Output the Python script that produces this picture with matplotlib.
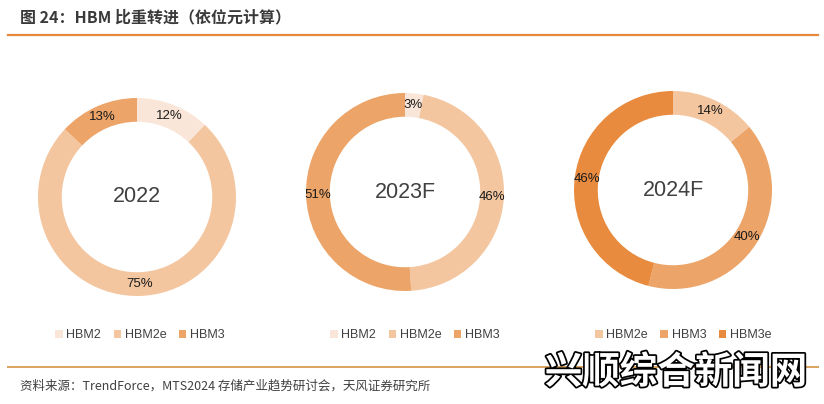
import matplotlib
matplotlib.use('Agg')
import matplotlib.pyplot as plt
import matplotlib.patheffects as pe
from matplotlib.patches import Patch

plt.rcParams['font.family'] = ['Liberation Sans', 'Noto Sans CJK SC', 'DejaVu Sans']

# data
years = ['2022', '2023F', '2024F']
labels_2022 = ['HBM2', 'HBM2e', 'HBM3']
share_2022 = [12, 75, 13]
labels_2023 = ['HBM2', 'HBM2e', 'HBM3']
share_2023 = [3, 46, 51]
labels_2024 = ['HBM2e', 'HBM3', 'HBM3e']
share_2024 = [14, 40, 46]

colors = {'HBM2': '#FAE6D8', 'HBM2e': '#F3C6A0', 'HBM3': '#ECA468', 'HBM3e': '#E98B3E'}

W, H = 824, 404
fig = plt.figure(figsize=(W / 100, H / 100), dpi=100)

# title and rules
fig.text(20 / W, 1 - 17 / H, '图 24：HBM 比重转进（依位元计算）', fontsize=11.5, fontweight='bold',
         color='#3a3a3a', va='center', family=['Noto Sans CJK SC', 'DejaVu Sans'])
fig.add_artist(plt.Line2D([8 / W, 818 / W], [1 - 35 / H, 1 - 35 / H], color='#E8883A', lw=1.6))
fig.add_artist(plt.Line2D([8 / W, 818 / W], [1 - 367 / H, 1 - 367 / H], color='#D9A25E', lw=1.4))
fig.text(20 / W, 1 - 386 / H, '资料来源：TrendForce，MTS2024 存储产业趋势研讨会，天风证券研究所', fontsize=9,
         color='#404040', va='center', family=['Noto Sans CJK SC', 'DejaVu Sans'])

panels = [
    (years[0], labels_2022, share_2022, (137, 197), 50),
    (years[1], labels_2023, share_2023, (405, 192), 325),
    (years[2], labels_2024, share_2024, (673, 190), 590),
]
R = 99
for year, labs, vals, (cx, cy), lx in panels:
    ax = fig.add_axes([(cx - R) / W, 1 - (cy + R) / H, 2 * R / W, 2 * R / H])
    wedges, _, autotexts = ax.pie(vals, colors=[colors[l] for l in labs], startangle=90,
                                  counterclock=False, radius=1.0,
                                  autopct=lambda p: f'{p:.0f}%', pctdistance=0.88,
                                  wedgeprops=dict(width=0.24, edgecolor='none'),
                                  textprops=dict(fontsize=9.5, color='#1a1a1a'))
    ax.text(0, 0, year, ha='center', va='center', fontsize=15.5, color='#404040')
    ax.set_aspect('equal')
    ax.set_xlim(-1, 1)
    ax.set_ylim(-1, 1)
    handles = [Patch(facecolor=colors[l], edgecolor='none', label=l) for l in labs]
    fig.legend(handles=handles, loc='center left', bbox_to_anchor=(lx / W, 1 - 335 / H),
               ncol=3, frameon=False, fontsize=9, handlelength=0.6, handleheight=0.6,
               handletextpad=0.3, columnspacing=1.0, labelcolor='#404040', borderaxespad=0)

# watermark overlay
fig.text(676 / W, 1 - 372 / H, '兴顺综合新闻网', fontsize=27, fontweight='bold', color='white',
         ha='center', va='center', family=['Noto Sans CJK SC'],
         path_effects=[pe.withStroke(linewidth=2.5, foreground='black')])

fig.savefig('out.png', dpi=100, facecolor='white')
